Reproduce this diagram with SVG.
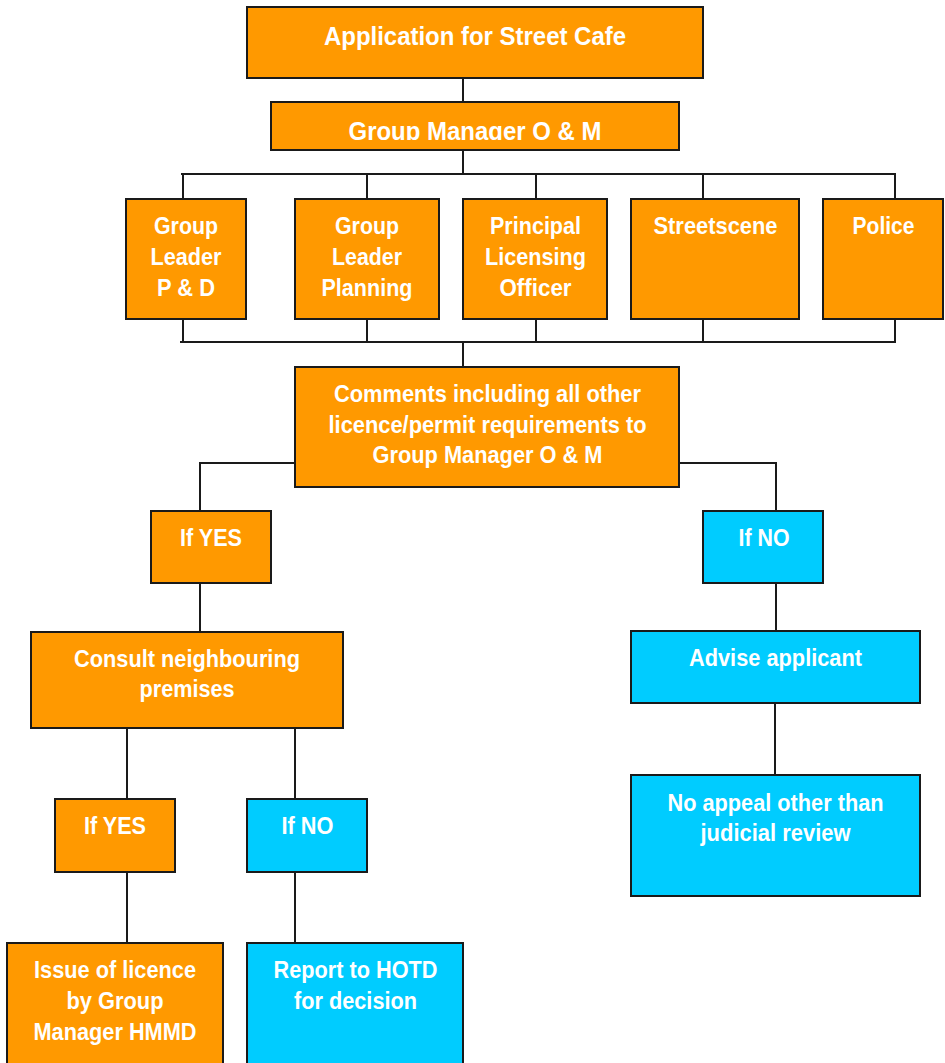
<svg xmlns="http://www.w3.org/2000/svg" width="945" height="1063" viewBox="0 0 945 1063">
<style>
.o{fill:#FF9900;stroke:#1a1a1a;stroke-width:2}
.c{fill:#00CCFF;stroke:#1a1a1a;stroke-width:2}
.t{fill:#ffffff;font-family:'Liberation Sans Narrow','Liberation Sans',Arial,sans-serif;font-weight:bold;font-size:24px;text-anchor:middle}
.big{font-size:26px}
.ln{fill:none;stroke:#1a1a1a;stroke-width:2}
</style>
<defs>
<clipPath id="clipB"><rect x="271" y="102" width="408" height="38"/></clipPath>
</defs>
<rect width="945" height="1063" fill="#ffffff"/>
<g id="connectors">
<path class="ln" d="M463,78 V102 M463,150 V174 M181,174 H896 M183,174 V199 M367,174 V199 M536,174 V199 M703,174 V199 M895,174 V199"/>
<path class="ln" d="M183,319 V342 M367,319 V342 M536,319 V342 M703,319 V342 M895,319 V342 M180,342 H896 M463,342 V367"/>
<path class="ln" d="M295,463 H200 V511 M679,463 H776 V511 M200,583 V632 M776,583 V631"/>
<path class="ln" d="M127,728 V799 M295,728 V799 M127,872 V943 M295,872 V943 M775,703 V775"/>
</g>
<g id="n-application">
<rect class="o" x="247" y="7" width="456" height="71"/>
<text class="t big" x="475" y="45" textLength="302" lengthAdjust="spacingAndGlyphs">Application for Street Cafe</text>
</g>
<g id="n-groupmanager">
<rect class="o" x="271" y="102" width="408" height="48"/>
<text class="t big" x="475" y="140" textLength="253" lengthAdjust="spacingAndGlyphs" clip-path="url(#clipB)">Group Manager O &amp; M</text>
</g>
<g id="n-glpd">
<rect class="o" x="126" y="199" width="120" height="120"/>
<text class="t" x="186" y="234" textLength="64" lengthAdjust="spacingAndGlyphs">Group</text>
<text class="t" x="186" y="264.5" textLength="71" lengthAdjust="spacingAndGlyphs">Leader</text>
<text class="t" x="186" y="295.5" textLength="58" lengthAdjust="spacingAndGlyphs">P &amp; D</text>
</g>
<g id="n-glplanning">
<rect class="o" x="295" y="199" width="144" height="120"/>
<text class="t" x="367" y="234" textLength="64" lengthAdjust="spacingAndGlyphs">Group</text>
<text class="t" x="367" y="264.5" textLength="70" lengthAdjust="spacingAndGlyphs">Leader</text>
<text class="t" x="367" y="295.5" textLength="91" lengthAdjust="spacingAndGlyphs">Planning</text>
</g>
<g id="n-principal">
<rect class="o" x="463" y="199" width="144" height="120"/>
<text class="t" x="535.5" y="234" textLength="91" lengthAdjust="spacingAndGlyphs">Principal</text>
<text class="t" x="535.5" y="264.5" textLength="101" lengthAdjust="spacingAndGlyphs">Licensing</text>
<text class="t" x="535.5" y="295.5" textLength="72" lengthAdjust="spacingAndGlyphs">Officer</text>
</g>
<g id="n-streetscene">
<rect class="o" x="631" y="199" width="168" height="120"/>
<text class="t" x="715.5" y="234" textLength="124" lengthAdjust="spacingAndGlyphs">Streetscene</text>
</g>
<g id="n-police">
<rect class="o" x="823" y="199" width="120" height="120"/>
<text class="t" x="883.5" y="234" textLength="62" lengthAdjust="spacingAndGlyphs">Police</text>
</g>
<g id="n-comments">
<rect class="o" x="295" y="367" width="384" height="120"/>
<text class="t" x="487.5" y="401.5" textLength="307" lengthAdjust="spacingAndGlyphs">Comments including all other</text>
<text class="t" x="487.5" y="432.5" textLength="318" lengthAdjust="spacingAndGlyphs">licence/permit requirements to</text>
<text class="t" x="487.5" y="463" textLength="230" lengthAdjust="spacingAndGlyphs">Group Manager O &amp; M</text>
</g>
<g id="n-ifyes1">
<rect class="o" x="151" y="511" width="120" height="72"/>
<text class="t" x="211" y="546" textLength="62" lengthAdjust="spacingAndGlyphs">If YES</text>
</g>
<g id="n-ifno1">
<rect class="c" x="703" y="511" width="120" height="72"/>
<text class="t" x="764" y="546" textLength="51" lengthAdjust="spacingAndGlyphs">If NO</text>
</g>
<g id="n-consult">
<rect class="o" x="31" y="632" width="312" height="96"/>
<text class="t" x="187" y="666.5" textLength="226" lengthAdjust="spacingAndGlyphs">Consult neighbouring</text>
<text class="t" x="187" y="696.5" textLength="95" lengthAdjust="spacingAndGlyphs">premises</text>
</g>
<g id="n-advise">
<rect class="c" x="631" y="631" width="289" height="72"/>
<text class="t" x="775.5" y="666" textLength="173" lengthAdjust="spacingAndGlyphs">Advise applicant</text>
</g>
<g id="n-ifyes2">
<rect class="o" x="55" y="799" width="120" height="73"/>
<text class="t" x="115" y="834" textLength="62" lengthAdjust="spacingAndGlyphs">If YES</text>
</g>
<g id="n-ifno2">
<rect class="c" x="247" y="799" width="120" height="73"/>
<text class="t" x="307.5" y="834" textLength="52" lengthAdjust="spacingAndGlyphs">If NO</text>
</g>
<g id="n-noappeal">
<rect class="c" x="631" y="775" width="289" height="121"/>
<text class="t" x="775.5" y="810.5" textLength="216" lengthAdjust="spacingAndGlyphs">No appeal other than</text>
<text class="t" x="775.5" y="840.5" textLength="150" lengthAdjust="spacingAndGlyphs">judicial review</text>
</g>
<g id="n-issue">
<rect class="o" x="7" y="943" width="216" height="124"/>
<text class="t" x="115" y="978" textLength="162" lengthAdjust="spacingAndGlyphs">Issue of licence</text>
<text class="t" x="115" y="1009" textLength="97" lengthAdjust="spacingAndGlyphs">by Group</text>
<text class="t" x="115" y="1040" textLength="163" lengthAdjust="spacingAndGlyphs">Manager HMMD</text>
</g>
<g id="n-report">
<rect class="c" x="247" y="943" width="216" height="124"/>
<text class="t" x="355.5" y="978" textLength="164" lengthAdjust="spacingAndGlyphs">Report to HOTD</text>
<text class="t" x="355.5" y="1009" textLength="123" lengthAdjust="spacingAndGlyphs">for decision</text>
</g>
</svg>
